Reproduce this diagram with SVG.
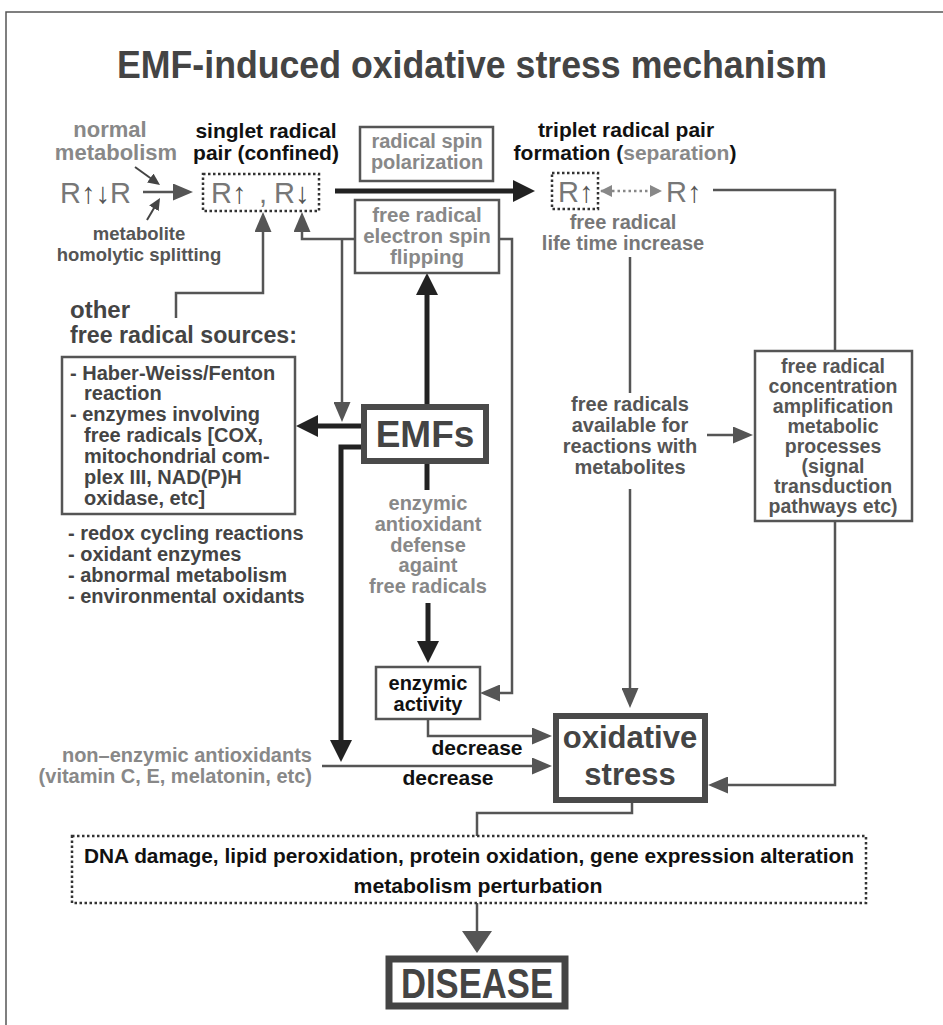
<svg xmlns="http://www.w3.org/2000/svg" width="943" height="1025" viewBox="0 0 943 1025">
<style>
text{font-family:"Liberation Sans",Arial,sans-serif;font-weight:bold}
.g{fill:#888}.d{fill:#444}.k{fill:#111}.m{fill:#555}
.mid{text-anchor:middle}
.box{fill:#fff;stroke:#555;stroke-width:2.5}
.thick{fill:#fff;stroke:#4a4a4a;stroke-width:6}
.dot{fill:none;stroke:#333;stroke-width:2.5;stroke-dasharray:2.5 2.5}
.c{fill:none;stroke:#555;stroke-width:2.5}
.ck{fill:none;stroke:#222;stroke-width:5}
.r{font-weight:normal;font-size:29px;fill:#777}
.ar{font-weight:bold;fill:#555}
</style>
<defs>
<marker id="ag" markerUnits="userSpaceOnUse" markerWidth="20" markerHeight="17" refX="14" refY="8.5" orient="auto"><path d="M0,0 L20,8.5 L0,17 z" fill="#555"/></marker>
<marker id="ab" markerUnits="userSpaceOnUse" markerWidth="22" markerHeight="22" refX="14" refY="11" orient="auto"><path d="M0,0 L22,11 L0,22 z" fill="#222"/></marker>
<marker id="as" markerUnits="userSpaceOnUse" markerWidth="12" markerHeight="11" refX="9" refY="5.5" orient="auto"><path d="M0,0 L12,5.5 L0,11 z" fill="#444"/></marker>
<marker id="ad" markerUnits="userSpaceOnUse" markerWidth="12" markerHeight="12" refX="11" refY="6" orient="auto-start-reverse"><path d="M0,0 L12,6 L0,12 z" fill="#888"/></marker>
<marker id="al" markerUnits="userSpaceOnUse" markerWidth="22" markerHeight="30" refX="14" refY="15" orient="auto"><path d="M0,0 L22,15 L0,30 z" fill="#555"/></marker>
</defs>
<rect width="943" height="1025" fill="#fff"/>
<path d="M6,1025 V12 H943" fill="none" stroke="#555" stroke-width="1.5"/>

<g id="title"><text x="472" y="78" class="mid d" font-size="38" textLength="710" lengthAdjust="spacingAndGlyphs">EMF-induced oxidative stress mechanism</text></g>

<g id="connectors">
<path class="c" d="M143,192 H187" marker-end="url(#ag)"/>
<path fill="none" stroke="#444" stroke-width="2" d="M135,167 L157.6,183.3" marker-end="url(#as)"/>
<path fill="none" stroke="#444" stroke-width="2" d="M147,220 L158.5,200.6" marker-end="url(#as)"/>
<path class="ck" d="M335,191 H527" marker-end="url(#ab)"/>
<path fill="none" stroke="#888" stroke-width="2.5" stroke-dasharray="2.5 3" d="M601,191 H661" marker-start="url(#ad)" marker-end="url(#ad)"/>
<path class="c" d="M713,190 H835 V351"/>
<path class="c" d="M630,257 V393"/>
<path class="c" d="M630,489 V702" marker-end="url(#ag)"/>
<path class="c" d="M707,435 H747" marker-end="url(#ag)"/>
<path class="c" d="M835,521 V785 H714" marker-end="url(#ag)"/>
<path class="c" d="M355,239 H302 V218" marker-end="url(#ag)"/>
<path class="c" d="M342,239 V416" marker-end="url(#ag)"/>
<path class="c" stroke-width="3" d="M176,318 V293 H263 V218" marker-end="url(#ag)"/>
<path class="c" d="M499,239 H512 V693 H486" marker-end="url(#ag)"/>
<path class="ck" d="M427,406 V281" marker-end="url(#ab)"/>
<path class="ck" d="M363,426 H304" marker-end="url(#ab)"/>
<path class="ck" d="M363,447 H341 V754" marker-end="url(#ab)"/>
<path class="ck" d="M427,462 V490"/>
<path class="ck" d="M428,603 V655" marker-end="url(#ab)"/>
<path class="c" d="M428,719 V736 H546" marker-end="url(#ag)"/>
<path class="c" d="M322,766 H546" marker-end="url(#ag)"/>
<path class="c" stroke-width="3" d="M632,800 V813 H477 V836"/>
<path class="c" stroke-width="3" d="M477,903 V945" marker-end="url(#al)"/>
</g>

<g id="normal-metabolism"><text x="110" y="137" class="mid g" font-size="22">normal</text><text x="116" y="160" class="mid g" font-size="22">metabolism</text></g>
<g id="rr"><text x="131" y="203" class="r" text-anchor="end" fill="#666">R<tspan class="ar">↑↓</tspan>R</text></g>
<g id="homolytic"><text x="139" y="240" class="mid m" font-size="18.5">metabolite</text><text x="139" y="261" class="mid m" font-size="18.5">homolytic splitting</text></g>

<g id="singlet"><text x="266" y="138" class="mid k" font-size="21">singlet radical</text><text x="266" y="160" class="mid k" font-size="21">pair (confined)</text>
<rect class="dot" x="203" y="174" width="116" height="37"/>
<text x="211" y="203" class="r">R<tspan class="ar">↑</tspan></text><text x="259" y="203" class="r" fill="#444">,</text><text x="274" y="203" class="r">R<tspan class="ar">↓</tspan></text></g>

<g id="polarization"><rect class="box" x="360" y="127" width="133" height="54"/><text x="427" y="148" class="mid g" font-size="20">radical spin</text><text x="427" y="169" class="mid g" font-size="20">polarization</text></g>

<g id="flipping"><rect class="box" x="355" y="200" width="144" height="73"/><text x="427" y="222" class="mid g" font-size="20.5">free radical</text><text x="427" y="243" class="mid g" font-size="20.5">electron spin</text><text x="427" y="264" class="mid g" font-size="20.5">flipping</text></g>

<g id="triplet"><text x="626" y="137" class="mid k" font-size="21">triplet radical pair</text><text x="625" y="160" class="mid k" font-size="21">formation (<tspan fill="#888">separation</tspan>)</text>
<rect class="dot" x="552" y="173" width="46" height="36"/>
<text x="558" y="202" class="r">R<tspan class="ar">↑</tspan></text><text x="666" y="202" class="r" fill="#444">R<tspan class="ar" fill="#333">↑</tspan></text></g>

<g id="lifetime"><text x="623" y="229" class="mid" fill="#777" font-size="20">free radical</text><text x="623" y="250" class="mid" fill="#777" font-size="20">life time increase</text></g>

<g id="other-sources"><text x="70" y="318" class="d" font-size="24">other</text><text x="70" y="343" class="d" font-size="24" textLength="227" lengthAdjust="spacingAndGlyphs">free radical sources:</text>
<rect class="box" x="62" y="357" width="233" height="157"/>
<text class="d" font-size="20"><tspan x="70" y="380">- Haber-Weiss/Fenton</tspan><tspan x="84" y="400">reaction</tspan><tspan x="70" y="421">- enzymes involving</tspan><tspan x="84" y="442">free radicals [COX,</tspan><tspan x="84" y="463">mitochondrial com-</tspan><tspan x="84" y="484">plex III, NAD(P)H</tspan><tspan x="84" y="505">oxidase, etc]</tspan></text>
<text class="d" font-size="20"><tspan x="68" y="540">- redox cycling reactions</tspan><tspan x="68" y="561">- oxidant enzymes</tspan><tspan x="68" y="582">- abnormal metabolism</tspan><tspan x="68" y="603">- environmental oxidants</tspan></text></g>

<g id="emfs"><rect class="thick" x="364" y="407" width="122" height="54"/><text x="425" y="447" class="mid d" font-size="37">EMFs</text></g>

<g id="enzymic-defense"><text class="mid g" font-size="20"><tspan x="428" y="510">enzymic</tspan><tspan x="428" y="531">antioxidant</tspan><tspan x="428" y="552">defense</tspan><tspan x="428" y="572">againt</tspan><tspan x="428" y="593">free radicals</tspan></text></g>

<g id="enzymic-activity"><rect class="box" x="376" y="667" width="104" height="52"/><text x="428" y="690" class="mid k" font-size="20">enzymic</text><text x="428" y="711" class="mid k" font-size="20">activity</text></g>

<g id="decrease-labels"><text x="477" y="755" class="mid k" font-size="21">decrease</text><text x="448" y="785" class="mid k" font-size="21">decrease</text></g>

<g id="non-enzymic"><text x="312" y="762" class="g" text-anchor="end" font-size="20">non–enzymic antioxidants</text><text x="312" y="783" class="g" text-anchor="end" font-size="20">(vitamin C, E, melatonin, etc)</text></g>

<g id="available"><text class="mid m" font-size="20"><tspan x="630" y="411">free radicals</tspan><tspan x="630" y="432">available for</tspan><tspan x="630" y="453">reactions with</tspan><tspan x="630" y="474">metabolites</tspan></text></g>

<g id="concentration"><rect class="box" x="755" y="351" width="157" height="170"/><text class="mid m" font-size="19.5"><tspan x="833" y="373">free radical</tspan><tspan x="833" y="393">concentration</tspan><tspan x="833" y="413">amplification</tspan><tspan x="833" y="433">metabolic</tspan><tspan x="833" y="453">processes</tspan><tspan x="833" y="473">(signal</tspan><tspan x="833" y="493">transduction</tspan><tspan x="833" y="513">pathways etc)</tspan></text></g>

<g id="oxidative-stress"><rect class="thick" x="556" y="716" width="149" height="84"/><text x="630" y="748" class="mid d" font-size="31">oxidative</text><text x="630" y="785" class="mid d" font-size="31">stress</text></g>

<g id="damage"><rect class="dot" x="72" y="836" width="794" height="67" stroke="#444"/><text x="469" y="863" class="mid k" font-size="21" textLength="770" lengthAdjust="spacingAndGlyphs">DNA damage, lipid peroxidation, protein oxidation, gene expression alteration</text><text x="478" y="893" class="mid k" font-size="21" textLength="249" lengthAdjust="spacingAndGlyphs">metabolism perturbation</text></g>

<g id="disease"><rect x="389" y="959" width="176" height="47" fill="#fff" stroke="#444" stroke-width="7"/><text x="477" y="998" class="mid d" font-size="42" textLength="152" lengthAdjust="spacingAndGlyphs">DISEASE</text></g>
</svg>
